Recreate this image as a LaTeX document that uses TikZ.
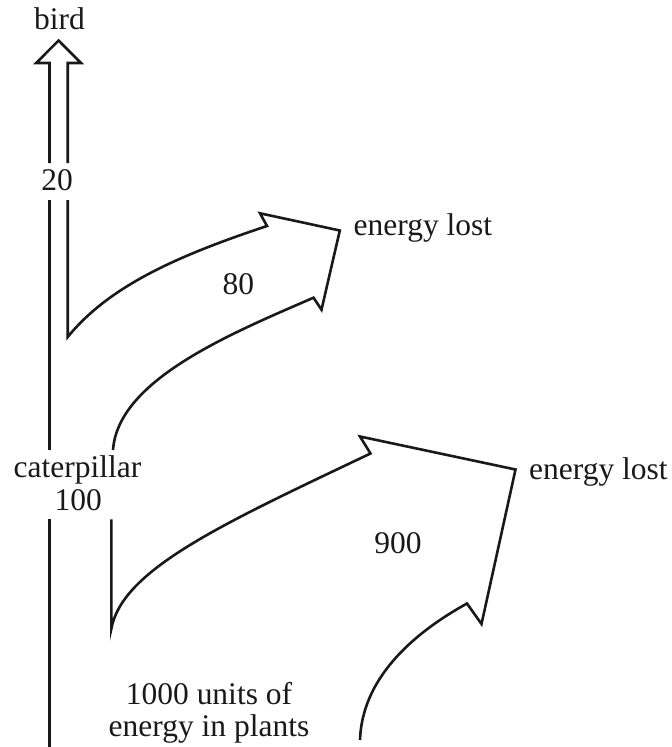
\documentclass[tikz,border=0pt]{standalone}
\usepackage{fontspec}
\setmainfont{Liberation Serif}
\begin{document}
\begin{tikzpicture}[x=1pt,y=-1pt,
  lbl/.style={inner sep=0pt,font=\fontsize{31.5}{33}\selectfont,text=black!90},
  outline/.style={draw=black!90,line width=2.6pt,line join=miter,miter limit=10}]
\useasboundingbox (0,0) rectangle (672,747);
% texts
\node[lbl,anchor=base] (bird) at (59.5,29.5) {bird};
\node[lbl,anchor=base] (n20) at (57,190.5) {20};
\node[lbl,anchor=base] (n80) at (238.3,294.3) {80};
\node[lbl,anchor=base west] (lost1) at (353.5,235.5) {energy lost};
\node[lbl,anchor=base] (cat) at (77.5,477.5) {caterpillar};
\node[lbl,anchor=base] (n100) at (78.3,510) {100};
\node[lbl,anchor=base] (n900) at (398,553) {900};
\node[lbl,anchor=base west] (lost2) at (529,479) {energy lost};
\node[lbl,anchor=base] (plants1) at (209,704) {1000 units of};
\node[lbl,anchor=base] (plants2) at (209,736) {energy in plants};
% bird arrow
\coordinate (bl) at (49.5,163);
\coordinate (br) at (67.7,163);
\draw[outline] (br) -- (67.7,63) -- (81,63) -- (58.6,40.5) -- (36.2,63) -- (49.5,63) -- (bl);
% left line between 20 and caterpillar
\draw[outline] (49.5,200) -- (49.5,450);
% 80 arrow
\draw[outline] (67.7,200) -- (67.7,337)
  .. controls (110,285) and (180,255) .. (267,226)
  -- (260,213.3) -- (339.8,230.5) -- (321.5,309.7) -- (313.5,297.7)
  .. controls (230,334) and (118,380) .. (113,450);
% lower left line
\draw[outline] (49.5,519.3) -- (49.5,747);
% 900 arrow
\draw[outline] (111.3,519.3) -- (111.3,629)
  .. controls (122,570) and (220,525) .. (370.5,453.5)
  -- (360,436.5) -- (515.5,469.5) -- (481.5,624) -- (467,603.5)
  .. controls (410,635) and (362,680) .. (360,740);
\end{tikzpicture}
\end{document}
